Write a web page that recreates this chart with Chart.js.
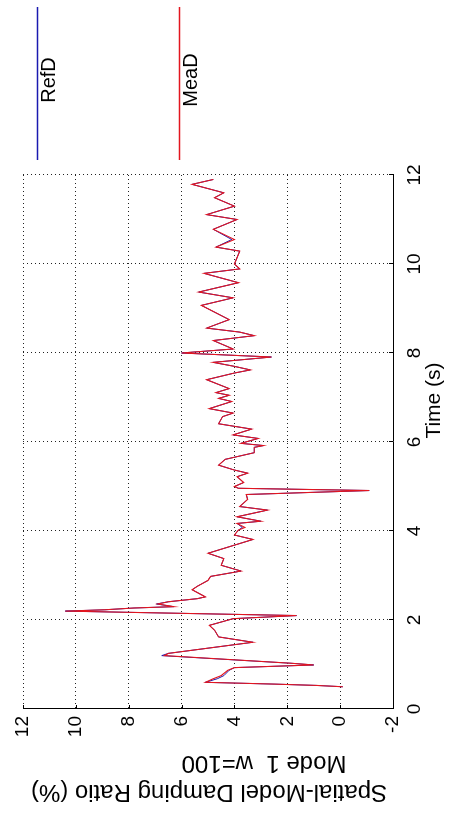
<!DOCTYPE html>
<html><head><meta charset="utf-8">
<script src="https://cdn.jsdelivr.net/npm/chart.js@4.4.1/dist/chart.umd.min.js"></script>
<style>
html,body{margin:0;padding:0;background:#fff;width:462px;height:817px;overflow:hidden;}
#wrap{position:absolute;left:0;top:0;width:817px;height:462px;transform-origin:0 0;transform:translate(0,817px) rotate(-90deg);background:#fff;}
canvas{display:block;}
</style></head><body>
<div id="wrap"><canvas id="c" width="817" height="462"></canvas></div>
<script>
// ---- data ----
const timeS = [0.50,0.53,0.56,0.60,0.68,0.75,0.87,0.93,0.99,1.03,1.20,1.25,1.50,1.62,1.77,1.88,2.03,2.10,2.20,2.23,2.27,2.30,2.36,2.41,2.48,2.52,2.68,2.76,2.89,2.98,3.10,3.23,3.38,3.50,3.81,3.91,4.02,4.08,4.17,4.22,4.32,4.47,4.55,4.71,4.82,4.91,4.96,5.00,5.09,5.22,5.30,5.37,5.48,5.61,5.76,5.88,5.92,5.97,6.08,6.16,6.29,6.41,6.57,6.65,6.75,6.91,6.98,7.05,7.11,7.20,7.40,7.55,7.62,7.70,7.79,7.91,8.00,8.09,8.28,8.39,8.47,8.56,8.75,9.07,9.24,9.37,9.58,9.79,9.89,10.00,10.29,10.38,10.55,10.78,11.00,11.11,11.30,11.49,11.60,11.79,11.90];
const meaD = [-0.10,0.90,2.50,5.10,4.80,4.50,4.25,4.00,1.00,1.90,6.65,6.50,3.30,4.60,4.75,4.95,4.05,1.65,10.40,8.90,7.80,6.30,6.90,6.50,5.40,5.10,5.60,5.40,5.00,4.90,3.75,4.50,4.40,5.00,3.30,4.00,3.85,3.60,3.90,3.00,3.90,2.75,3.80,3.50,3.55,-1.10,3.85,4.00,3.65,3.90,3.50,4.00,4.60,4.35,3.25,3.25,2.90,3.75,3.10,4.05,3.35,4.60,4.45,4.05,4.95,4.10,4.60,4.20,4.70,4.20,5.05,4.00,3.40,4.00,4.80,2.60,6.00,4.05,4.80,3.25,3.80,5.05,4.20,5.25,4.05,5.35,3.85,5.15,3.80,4.00,3.80,4.70,4.00,4.80,3.90,5.05,4.00,4.75,4.40,5.60,4.80];
const refD = [-0.10,0.90,2.50,5.10,4.65,4.40,4.20,4.00,1.00,1.90,6.75,6.50,3.30,4.60,4.75,4.95,4.05,1.65,10.40,8.90,7.80,6.30,6.95,6.50,5.40,5.10,5.60,5.40,5.00,4.90,3.75,4.50,4.40,5.00,3.30,4.00,3.85,3.70,3.90,3.00,3.90,2.75,3.80,3.50,3.55,-1.10,3.85,4.00,3.65,3.90,3.50,4.00,4.60,4.35,3.25,3.25,2.90,3.75,3.10,4.05,3.35,4.60,4.45,4.05,4.95,4.10,4.60,4.20,4.70,4.20,5.05,4.00,3.40,4.00,4.80,2.60,6.00,4.05,4.80,3.25,3.80,5.05,4.20,5.25,4.05,5.35,3.85,5.15,3.80,4.00,3.80,4.70,4.10,4.80,3.90,5.05,4.00,4.75,4.40,5.60,4.80];
const timeTicks = [0,2,4,6,8,10,12];
const timeTickLabels = ['0','2','4','6','8','10','12'];
const ratioTicks = [-2,0,2,4,6,8,10,12];
const ratioTickLabels = ['-2','0','2','4','6','8','10','12'];
const seriesNames = ['RefD','MeaD'];
const seriesColors = ['#1a1ab0', '#e3161f'];
const xTitle = 'Time (s)';
const yTitle = ['Spatial-Model Damping Ratio (%)', 'Mode 1  w=100'];

const FONT = "'Liberation Sans', Arial, Helvetica, sans-serif";

const decor = {
  id: 'decor',
  afterDatasetsDraw(chart) {
    const {ctx, chartArea: a, scales: {x, y}} = chart;
    ctx.save();
    ctx.strokeStyle = '#000';
    ctx.lineWidth = 1;
    ctx.beginPath();
    timeTicks.forEach(v => {
      const px = Math.round(x.getPixelForValue(v)) + 0.5;
      ctx.moveTo(px, a.bottom); ctx.lineTo(px, a.bottom - 4);
    });
    ratioTicks.forEach(v => {
      const py = Math.round(y.getPixelForValue(v)) + 0.5;
      ctx.moveTo(a.left, py); ctx.lineTo(a.left + 4, py);
    });
    ctx.stroke();
    ctx.fillStyle = '#000';
    ctx.textAlign = 'center';
    ctx.textBaseline = 'middle';
    // x title
    ctx.font = '21px ' + FONT;
    ctx.fillText(xTitle, chart.width / 2 + 8, a.bottom + 41);
    // y title (two lines)
    ctx.font = '24px ' + FONT;
    ctx.save(); ctx.translate(a.left - 83, (a.top + a.bottom) / 2 + 1); ctx.rotate(-Math.PI / 2);
    ctx.fillText(yTitle[0], 0, 0); ctx.restore();
    ctx.save(); ctx.translate(a.left - 54, (a.top + a.bottom) / 2 + 56); ctx.rotate(-Math.PI / 2);
    ctx.fillText(yTitle[1], 0, 0); ctx.restore();
    // legend
    ctx.font = '20px ' + FONT;
    const legY = [a.top + 14, a.top + 156];
    seriesNames.forEach((name, i) => {
      const ly = Math.round(legY[i]) + 0.5;
      ctx.strokeStyle = seriesColors[i];
      ctx.lineWidth = 1.3;
      ctx.beginPath(); ctx.moveTo(a.right + 15, ly); ctx.lineTo(a.right + 168, ly); ctx.stroke();
      ctx.fillStyle = '#000';
      ctx.fillText(name, a.right + 95, ly + 12);
    });
    ctx.restore();
  }
};

new Chart(document.getElementById('c').getContext('2d'), {
  type: 'line',
  data: {
    datasets: [
      {label: seriesNames[0], data: timeS.map((t, i) => ({x: t, y: refD[i]})), borderColor: seriesColors[0], borderWidth: 1, pointRadius: 0, tension: 0, order: 2},
      {label: seriesNames[1], data: timeS.map((t, i) => ({x: t, y: meaD[i]})), borderColor: seriesColors[1], borderWidth: 1.1, pointRadius: 0, tension: 0, order: 1}
    ]
  },
  options: {
    responsive: false, animation: false, devicePixelRatio: 1,
    layout: {padding: {left: 0, right: 175, top: 23, bottom: 0}},
    plugins: {legend: {display: false}, tooltip: {enabled: false}},
    scales: {
      x: {
        type: 'linear', min: 0, max: 12,
        afterBuildTicks: s => { s.ticks = timeTicks.map(v => ({value: v})); },
        afterFit: s => { s.height = 69; },
        grid: {color: '#222', lineWidth: 1, drawTicks: false},
        border: {display: true, color: '#000', width: 1, dash: [1, 3]},
        ticks: {color: '#000', font: {family: FONT, size: 19}, padding: 10, maxRotation: 0, minRotation: 0,
                callback: (v, i) => timeTickLabels[i]}
      },
      y: {
        type: 'linear', min: -2, max: 12,
        afterBuildTicks: s => { s.ticks = ratioTicks.map(v => ({value: v})); },
        afterFit: s => { s.width = 108; },
        grid: {color: '#222', lineWidth: 1, drawTicks: false},
        border: {display: true, color: '#000', width: 1, dash: [1, 3]},
        ticks: {color: '#000', font: {family: FONT, size: 19}, padding: 7,
                callback: (v, i) => ratioTickLabels[i]}
      }
    }
  },
  plugins: [decor]
});
</script>
</body></html>
